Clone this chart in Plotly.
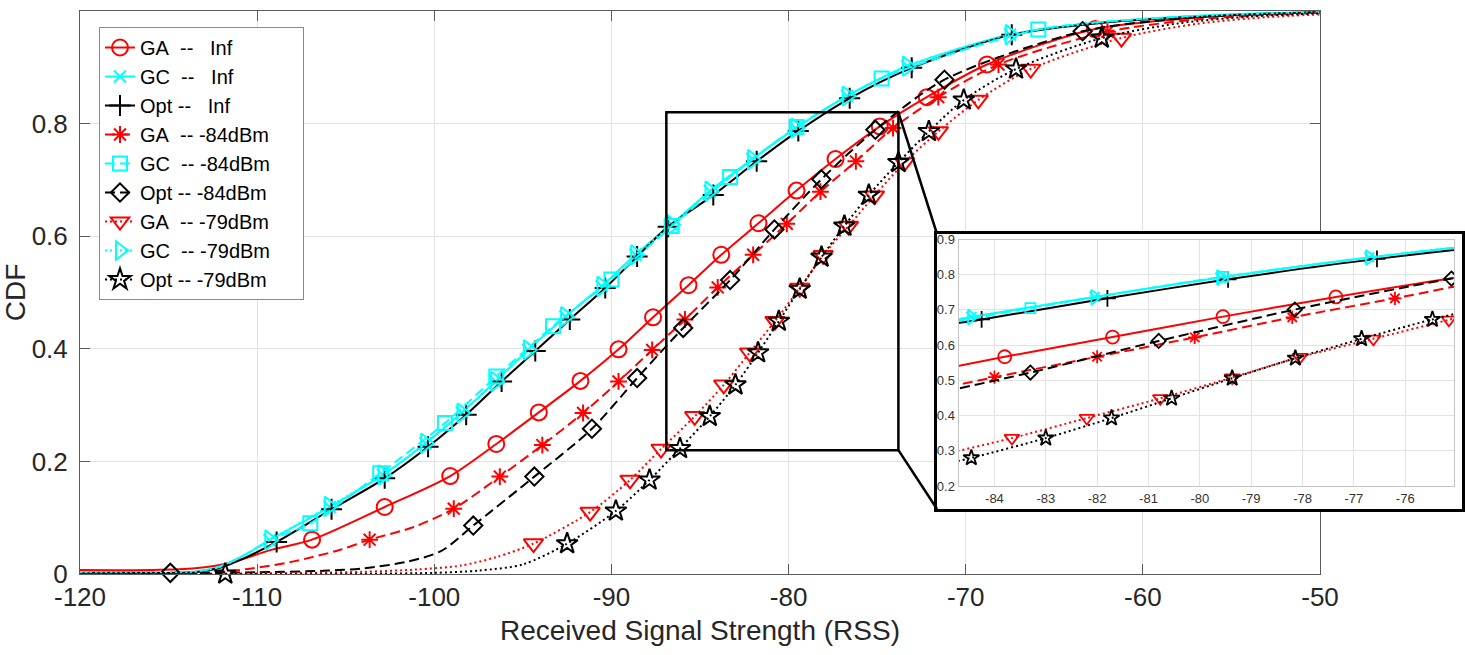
import plotly.graph_objects as go

# ---------------- ticks / ranges ----------------
main_xticks = [-120, -110, -100, -90, -80, -70, -60, -50]
main_xticklabels = ["-120", "-110", "-100", "-90", "-80", "-70", "-60", "-50"]
main_yticks = [0, 0.2, 0.4, 0.6, 0.8, 1]
main_yticklabels = ["0", "0.2", "0.4", "0.6", "0.8", "1"]
inset_xticks = [-84, -83, -82, -81, -80, -79, -78, -77, -76]
inset_xticklabels = ["-84", "-83", "-82", "-81", "-80", "-79", "-78", "-77", "-76"]
inset_yticks = [0.2, 0.3, 0.4, 0.5, 0.6, 0.7, 0.8, 0.9]
inset_yticklabels = ["0.2", "0.3", "0.4", "0.5", "0.6", "0.7", "0.8", "0.9"]

main_xrange = [-120, -50]
main_yrange = [0, 1]
inset_xrange = [-84.7, -75.05]
inset_yrange = [0.2, 0.9]
zoom_box_x = [-86.9, -73.8]
zoom_box_y = [0.22, 0.82]

# ---------------- series data (marker points + extra line points) ----------------
# GA -- Inf (circles, solid red)
ga_inf_mx = [-106.9, -102.8, -99.1, -96.5, -94.1, -91.75, -89.6, -87.65, -85.65, -83.8, -81.7, -79.55, -77.35, -74.85, -72.2, -68.8, -62.7]
ga_inf_my = [0.061, 0.119, 0.174, 0.231, 0.287, 0.343, 0.399, 0.456, 0.513, 0.567, 0.623, 0.681, 0.737, 0.795, 0.847, 0.905, 0.968]
ga_inf_lx = [-120, -116, -113.5, -111.5, -109.3, -57, -53, -50]
ga_inf_ly = [0.007, 0.007, 0.010, 0.020, 0.042, 0.988, 0.995, 0.998]

# GC -- Inf (x, solid cyan)
gc_inf_mx = [-109.3, -105.9, -102.9, -100.5, -98.45, -96.55, -94.7, -92.6, -90.55, -88.65, -86.6, -84.45, -82.05, -79.6, -76.7, -73.3, -67.5]
gc_inf_my = [0.060, 0.119, 0.176, 0.232, 0.287, 0.342, 0.398, 0.457, 0.511, 0.567, 0.621, 0.680, 0.737, 0.792, 0.849, 0.902, 0.958]
gc_inf_lx = [-120, -116, -113.8, -112.1, -110.8, -62, -57, -53, -50]
gc_inf_ly = [0.002, 0.002, 0.003, 0.013, 0.032, 0.981, 0.991, 0.996, 0.998]

# Opt -- Inf (+, solid black)
opt_inf_mx = [-108.9, -105.8, -102.8, -100.35, -98.2, -96.2, -94.3, -92.35, -90.35, -88.55, -86.8, -84.25, -81.8, -79.45, -76.55, -73.05, -67.4]
opt_inf_my = [0.057, 0.115, 0.170, 0.226, 0.283, 0.342, 0.396, 0.452, 0.508, 0.564, 0.617, 0.673, 0.733, 0.787, 0.845, 0.899, 0.958]
opt_inf_lx = [-120, -116, -113.6, -112, -110.6, -62, -57, -53, -50]
opt_inf_ly = [0.002, 0.002, 0.003, 0.012, 0.030, 0.980, 0.990, 0.995, 0.998]

# GA -- -84dBm (asterisk, dashed red)
ga_84_mx = [-103.65, -98.9, -96.3, -93.9, -91.6, -89.6, -87.7, -85.85, -84.0, -82.0, -80.1, -78.2, -76.2, -74.1, -71.55, -68.15, -62.0]
ga_84_my = [0.061, 0.116, 0.173, 0.229, 0.286, 0.342, 0.398, 0.452, 0.509, 0.567, 0.622, 0.679, 0.733, 0.792, 0.847, 0.905, 0.963]
ga_84_lx = [-120, -116, -112.5, -110.5, -108, -105.3, -101.2, -57, -53, -50]
ga_84_ly = [0.001, 0.001, 0.003, 0.009, 0.022, 0.043, 0.083, 0.985, 0.993, 0.997]

# GC -- -84dBm (square, dashed cyan)
gc_84_mx = [-107.0, -103.05, -99.4, -96.5, -93.3, -90.0, -86.6, -83.3, -79.55, -74.75, -65.9]
gc_84_my = [0.090, 0.179, 0.268, 0.351, 0.440, 0.523, 0.618, 0.705, 0.794, 0.880, 0.967]
gc_84_lx = [-120, -116, -113.8, -112.1, -110.8, -109.3, -60, -55, -50]
gc_84_ly = [0.002, 0.002, 0.003, 0.013, 0.032, 0.060, 0.986, 0.994, 0.998]

# Opt -- -84dBm (diamond, dashed black)
opt_84_mx = [-114.9, -97.8, -94.35, -91.1, -88.55, -85.95, -83.3, -80.8, -78.15, -75.1, -71.2, -63.4]
opt_84_my = [0.002, 0.086, 0.173, 0.258, 0.348, 0.437, 0.522, 0.612, 0.701, 0.789, 0.878, 0.964]
opt_84_lx = [-120, -110, -106, -104, -101.5, -99.6, -57, -53, -50]
opt_84_ly = [0.001, 0.003, 0.006, 0.010, 0.022, 0.041, 0.989, 0.995, 0.998]

# GA -- -79dBm (triangle down, dotted red)
ga_79_mx = [-94.4, -91.2, -88.95, -87.2, -85.3, -83.66, -82.2, -80.77, -79.37, -78.05, -76.62, -75.15, -73.45, -71.54, -69.29, -66.33, -61.21]
ga_79_my = [0.054, 0.110, 0.167, 0.222, 0.280, 0.336, 0.393, 0.449, 0.508, 0.566, 0.618, 0.672, 0.731, 0.786, 0.842, 0.897, 0.952]
ga_79_lx = [-120, -110, -104, -101, -98.5, -96.5, -57, -53, -50]
ga_79_ly = [0.0, 0.001, 0.004, 0.008, 0.015, 0.030, 0.977, 0.989, 0.994]

# GC -- -79dBm (triangle right, dotted cyan)
gc_79_mx = [-109.3, -105.95, -102.9, -100.5, -98.45, -96.55, -94.7, -92.6, -90.55, -88.65, -86.6, -84.45, -82.05, -79.6, -76.7, -73.3, -67.5]
gc_79_my = [0.060, 0.120, 0.176, 0.232, 0.286, 0.342, 0.398, 0.457, 0.511, 0.567, 0.620, 0.680, 0.736, 0.792, 0.849, 0.902, 0.958]
gc_79_lx = [-120, -116, -113.8, -112.1, -110.8, -62, -57, -53, -50]
gc_79_ly = [0.002, 0.002, 0.003, 0.013, 0.032, 0.981, 0.991, 0.996, 0.998]

# Opt -- -79dBm (star, dotted black)
opt_79_mx = [-111.8, -92.5, -89.75, -87.85, -86.13, -84.45, -83.0, -81.72, -80.55, -79.37, -78.14, -76.85, -75.47, -73.8, -72.08, -70.11, -67.16, -62.32]
opt_79_my = [0.0, 0.054, 0.112, 0.167, 0.223, 0.280, 0.336, 0.393, 0.449, 0.506, 0.563, 0.618, 0.673, 0.731, 0.786, 0.842, 0.897, 0.952]
opt_79_lx = [-120, -104, -100, -97.5, -95, -58, -54, -50]
opt_79_ly = [0.0, 0.0005, 0.002, 0.006, 0.017, 0.978, 0.990, 0.996]

NB = "\u00a0"
legend_labels = [
    "GA  --   Inf", "GC  --   Inf", "Opt --   Inf",
    "GA  -- -84dBm", "GC  -- -84dBm", "Opt -- -84dBm",
    "GA  -- -79dBm", "GC  -- -79dBm", "Opt -- -79dBm",
]
legend_pad = "     "   # trailing blank room inside the legend box

RED, CYAN, BLACK = "#ff0000", "#00ffff", "#000000"
DASHED, DOTTED = "10px,5px", "2px,3px"

series = [
    (legend_labels[0], RED, "solid", "circle-open", 16, 13, ga_inf_mx, ga_inf_my, ga_inf_lx, ga_inf_ly),
    (legend_labels[1], CYAN, "solid", "x-thin-open", 12, 10, gc_inf_mx, gc_inf_my, gc_inf_lx, gc_inf_ly),
    (legend_labels[2], BLACK, "solid", "cross-thin-open", 15, 12, opt_inf_mx, opt_inf_my, opt_inf_lx, opt_inf_ly),
    (legend_labels[3], RED, DASHED, "asterisk-open", 14, 11, ga_84_mx, ga_84_my, ga_84_lx, ga_84_ly),
    (legend_labels[4], CYAN, DASHED, "square-open", 14, 10, gc_84_mx, gc_84_my, gc_84_lx, gc_84_ly),
    (legend_labels[5], BLACK, DASHED, "diamond-open", 14, 11, opt_84_mx, opt_84_my, opt_84_lx, opt_84_ly),
    (legend_labels[6], RED, DOTTED, "triangle-down-open", 17, 13, ga_79_mx, ga_79_my, ga_79_lx, ga_79_ly),
    (legend_labels[7], CYAN, DOTTED, "triangle-right-open", 17, 13, gc_79_mx, gc_79_my, gc_79_lx, gc_79_ly),
    (legend_labels[8], BLACK, DOTTED, "star-open", 16, 12, opt_79_mx, opt_79_my, opt_79_lx, opt_79_ly),
]


def merged(mx, my, lx, ly):
    pts = sorted(zip(list(mx) + list(lx), list(my) + list(ly)))
    return [p[0] for p in pts], [p[1] for p in pts]


fig = go.Figure()

# legend entries
for name, col, dash, sym, ms, ms_in, mx, my, lx, ly in series:
    fig.add_trace(go.Scatter(
        x=[None], y=[None], mode="lines+markers", name=(name + legend_pad).replace(" ", NB),
        line=dict(color=col, width=2, dash=dash),
        marker=dict(symbol=sym, size=min(ms, 16), color=col, line=dict(color=col, width=2)),
        xaxis="x", yaxis="y", hoverinfo="skip"))

# main plot curves
for name, col, dash, sym, ms, ms_in, mx, my, lx, ly in series:
    xs, ys = merged(mx, my, lx, ly)
    fig.add_trace(go.Scatter(
        x=xs, y=ys, mode="lines", showlegend=False,
        line=dict(color=col, width=2, dash=dash, shape="spline", smoothing=0.8),
        xaxis="x", yaxis="y", hoverinfo="skip"))
    fig.add_trace(go.Scatter(
        x=mx, y=my, mode="markers", showlegend=False, cliponaxis=False,
        marker=dict(symbol=sym, size=ms, color=col, line=dict(color=col, width=2)),
        xaxis="x", yaxis="y", hoverinfo="skip"))

# white framed box behind the inset
fig.add_trace(go.Scatter(x=[None], y=[None], mode="markers", showlegend=False,
                         xaxis="x2", yaxis="y2", hoverinfo="skip"))

# inset curves
for name, col, dash, sym, ms, ms_in, mx, my, lx, ly in series:
    xs, ys = merged(mx, my, lx, ly)
    fig.add_trace(go.Scatter(
        x=xs, y=ys, mode="lines", showlegend=False,
        line=dict(color=col, width=2, dash=dash, shape="spline", smoothing=0.8),
        xaxis="x3", yaxis="y3", hoverinfo="skip"))
    fig.add_trace(go.Scatter(
        x=mx, y=my, mode="markers", showlegend=False,
        marker=dict(symbol=sym, size=ms_in, color=col, line=dict(color=col, width=1.8)),
        xaxis="x3", yaxis="y3", hoverinfo="skip"))

# ---------------- layout ----------------
W, H = 1465, 655
ML, MR, MT, MB = 80, 0, 11, 81
PW = W - ML - MR
PH = H - MT - MB
main_dom_x = [0, (1320 - ML) / PW]
box_dom_x = [(937 - ML) / PW, (1462 - ML) / PW]
box_dom_y = [(H - MB - 509) / PH, (H - MB - 234) / PH]
inset_dom_x = [(958.5 - ML) / PW, (1454 - ML) / PW]
inset_dom_y = [(H - MB - 486) / PH, (H - MB - 239.5) / PH]

GRID = "#e3e3e3"
AXC = "#5a5a5a"
FONT = "Liberation Sans, Arial, Helvetica, sans-serif"


def px(v):
    return main_dom_x[0] + (v - main_xrange[0]) / (main_xrange[1] - main_xrange[0]) * (main_dom_x[1] - main_dom_x[0])


def py(v):
    return (v - main_yrange[0]) / (main_yrange[1] - main_yrange[0])


shapes = [
    dict(type="rect", xref="x", yref="y", x0=zoom_box_x[0], x1=zoom_box_x[1],
         y0=zoom_box_y[0], y1=zoom_box_y[1], line=dict(color="black", width=2.5), layer="above"),
    dict(type="line", xref="paper", yref="paper", x0=px(zoom_box_x[1]), y0=py(zoom_box_y[1]),
         x1=box_dom_x[0], y1=box_dom_y[1], line=dict(color="black", width=2.5), layer="above"),
    dict(type="line", xref="paper", yref="paper", x0=px(zoom_box_x[1]), y0=py(zoom_box_y[0]),
         x1=box_dom_x[0], y1=box_dom_y[0], line=dict(color="black", width=2.5), layer="above"),
]

fig.update_layout(
    template="none",
    width=W, height=H, autosize=False,
    margin=dict(l=ML, r=MR, t=MT, b=MB, pad=0, autoexpand=False),
    paper_bgcolor="white", plot_bgcolor="white",
    font=dict(family=FONT, color="#262626"),
    showlegend=True,
    legend=dict(x=(99 - ML) / PW, y=(H - MB - 27) / PH, xanchor="left", yanchor="top",
                bgcolor="white", bordercolor="#8a8a8a", borderwidth=1,
                font=dict(family=FONT, size=20, color="black"), tracegroupgap=0),
    xaxis=dict(domain=main_dom_x, range=main_xrange, tickvals=main_xticks, ticktext=main_xticklabels,
               showgrid=True, gridcolor=GRID, gridwidth=1, zeroline=False, showline=True, mirror="ticks",
               linecolor=AXC, linewidth=1, ticks="inside", ticklen=10, tickcolor=AXC, automargin=False,
               tickfont=dict(size=26, color="#262626"),
               title=dict(text="Received Signal Strength (RSS)", font=dict(size=28, color="#262626"),
                          standoff=9),
               anchor="y"),
    yaxis=dict(domain=[0, 1], range=main_yrange, tickvals=main_yticks, ticktext=main_yticklabels,
               showgrid=True, gridcolor=GRID, gridwidth=1, zeroline=False, showline=True, mirror="ticks",
               linecolor=AXC, linewidth=1, ticks="inside", ticklen=10, tickcolor=AXC, automargin=False,
               tickfont=dict(size=26, color="#262626"), ticklabelstandoff=6,
               title=dict(text="CDF", font=dict(size=28, color="#262626")),
               anchor="x"),
    xaxis2=dict(domain=box_dom_x, range=[0, 1], showgrid=False, zeroline=False, showline=True,
                mirror=True, linecolor="black", linewidth=3, ticks="", showticklabels=False,
                anchor="y2", fixedrange=True, automargin=False),
    yaxis2=dict(domain=box_dom_y, range=[0, 1], showgrid=False, zeroline=False, showline=True,
                mirror=True, linecolor="black", linewidth=3, ticks="", showticklabels=False,
                anchor="x2", fixedrange=True, automargin=False),
    xaxis3=dict(domain=inset_dom_x, range=inset_xrange, tickvals=inset_xticks, ticktext=inset_xticklabels,
                showgrid=True, gridcolor=GRID, gridwidth=1, zeroline=False, showline=True, mirror=True,
                linecolor="#c4c4c4", linewidth=1, ticks="", tickfont=dict(size=13, color="#333333"),
                anchor="y3", automargin=False),
    yaxis3=dict(domain=inset_dom_y, range=inset_yrange, tickvals=inset_yticks, ticktext=inset_yticklabels,
                showgrid=True, gridcolor=GRID, gridwidth=1, zeroline=False, showline=True, mirror=True,
                linecolor="#c4c4c4", linewidth=1, ticks="", tickfont=dict(size=13, color="#333333"),
                anchor="x3", automargin=False),
    shapes=shapes,
)

fig.write_html("out.html")
